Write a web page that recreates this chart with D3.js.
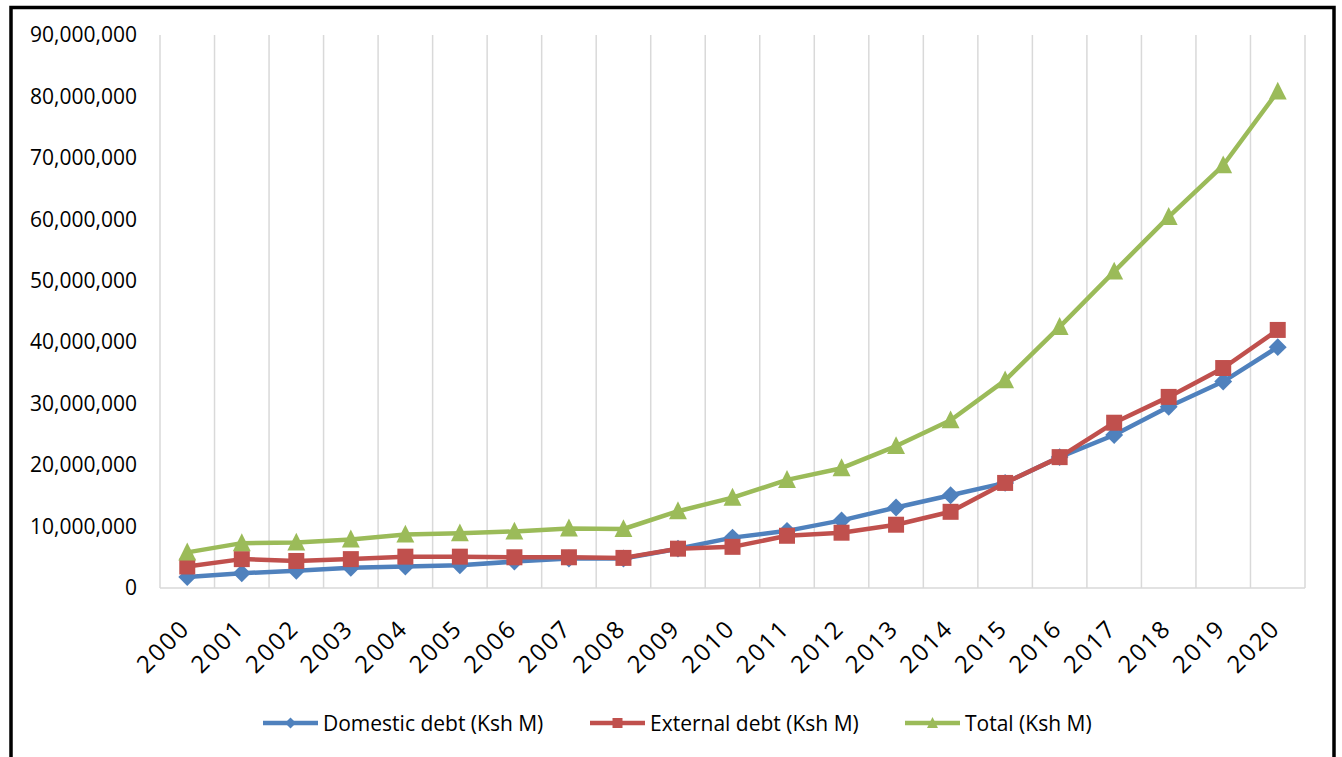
<!DOCTYPE html>
<html>
<head>
<meta charset="utf-8">
<script src="https://cdn.jsdelivr.net/npm/d3@7"></script>
<style>
  html, body { margin: 0; padding: 0; background: #ffffff; }
  svg { display: block; }
  text { font-family: "Open Sans", sans-serif; fill: #000; }
</style>
</head>
<body>
<svg id="chart" width="1342" height="757"></svg>
<script>
const years = ["2000","2001","2002","2003","2004","2005","2006","2007","2008","2009","2010",
               "2011","2012","2013","2014","2015","2016","2017","2018","2019","2020"];
const domestic = [1800000,2400000,2800000,3300000,3500000,3700000,4300000,4800000,4800000,6400000,8200000,
                  9300000,11000000,13100000,15100000,17100000,21300000,24900000,29500000,33600000,39200000];
const external = [3500000,4700000,4400000,4700000,5100000,5100000,5000000,5000000,4900000,6400000,6700000,
                  8500000,9000000,10300000,12400000,17100000,21300000,26900000,31100000,35800000,42000000];
const total    = [5800000,7300000,7400000,7900000,8700000,8900000,9200000,9700000,9600000,12500000,14700000,
                  17600000,19500000,23100000,27300000,33800000,42500000,51500000,60400000,68800000,80800000];
const yTicks = [0,10000000,20000000,30000000,40000000,50000000,60000000,70000000,80000000,90000000];
const seriesNames = ["Domestic debt (Ksh M)","External debt (Ksh M)","Total (Ksh M)"];

const colors = ["#4F81BD","#C0504D","#9BBB59"];
const series = [
  {name: seriesNames[0], values: domestic, color: colors[0], shape: "diamond"},
  {name: seriesNames[1], values: external, color: colors[1], shape: "square"},
  {name: seriesNames[2], values: total,    color: colors[2], shape: "triangle"}
];

const svg = d3.select("#chart");
const pLeft = 160, pRight = 1305, pTop = 35, pBottom = 588;

const x = d3.scaleBand().domain(years).range([pLeft, pRight]).paddingInner(0).paddingOuter(0);
const y = d3.scaleLinear().domain([0, 90000000]).range([pBottom, pTop]);

// outer frame
svg.append("rect").attr("x", 11).attr("y", 7.5).attr("width", 1323).attr("height", 780)
  .attr("fill", "none").attr("stroke", "#000").attr("stroke-width", 3.5);

// vertical gridlines at category boundaries
const bounds = years.map(d => x(d)).concat([x(years[years.length-1]) + x.bandwidth()]);
svg.append("g").selectAll("line").data(bounds).join("line")
  .attr("x1", d => d).attr("x2", d => d).attr("y1", pTop).attr("y2", pBottom)
  .attr("stroke", "#d9d9d9").attr("stroke-width", 1.5);

// x baseline
svg.append("line").attr("x1", pLeft).attr("x2", pRight).attr("y1", pBottom).attr("y2", pBottom)
  .attr("stroke", "#d9d9d9").attr("stroke-width", 1.5);

// y axis labels
const fmt = d3.format(",");
const yAxis = d3.axisLeft(y).tickValues(yTicks).tickFormat(d => fmt(d)).tickSize(0).tickPadding(23);
const yg = svg.append("g").attr("transform", `translate(${pLeft},0)`).call(yAxis);
yg.select(".domain").remove();
yg.selectAll("text").style("font-family", '"Open Sans", sans-serif').style("font-size", "21px").attr("fill", "#000");

// x axis labels
const xAxis = d3.axisBottom(x).tickSize(0).tickPadding(0);
const xg = svg.append("g").attr("transform", `translate(0,${pBottom})`).call(xAxis);
xg.select(".domain").remove();
xg.selectAll("text")
  .style("font-family", '"Open Sans", sans-serif').style("font-size", "24px")
  .style("letter-spacing", "2px").attr("fill", "#000")
  .attr("text-anchor", "end")
  .attr("dy", "0")
  .attr("y", 0)
  .attr("transform", "translate(4,42) rotate(-45)");

// marker symbols
const symDiamond = { draw(ctx, s) { const r = Math.sqrt(s) / 2 * Math.SQRT2;
  ctx.moveTo(0, -r); ctx.lineTo(r, 0); ctx.lineTo(0, r); ctx.lineTo(-r, 0); ctx.closePath(); } };
const symSquare = { draw(ctx, s) { const r = Math.sqrt(s) / 2;
  ctx.rect(-r, -r, 2 * r, 2 * r); } };
const symTriangle = { draw(ctx, s) { const w = Math.sqrt(s);
  ctx.moveTo(0, -w * 0.55); ctx.lineTo(w / 2, w * 0.45); ctx.lineTo(-w / 2, w * 0.45); ctx.closePath(); } };
const shapes = {diamond: symDiamond, square: symSquare, triangle: symTriangle};
const sizes = {diamond: 160, square: 256, triangle: 320};
const legSizes = {diamond: 60, square: 100, triangle: 120};

const line = d3.line().x((d, i) => x(years[i]) + x.bandwidth() / 2).y(d => y(d));

series.forEach(s => {
  const g = svg.append("g");
  g.append("path").attr("d", line(s.values)).attr("fill", "none")
    .attr("stroke", s.color).attr("stroke-width", 4.5).attr("stroke-linejoin", "round");
  g.selectAll("path.m").data(s.values).join("path").attr("class", "m")
    .attr("d", d3.symbol().type(shapes[s.shape]).size(sizes[s.shape]))
    .attr("transform", (d, i) => `translate(${x(years[i]) + x.bandwidth() / 2},${y(d)})`)
    .attr("fill", s.color);
});

// legend
const legX = [263, 590, 905];
const legY = 723;
series.forEach((s, i) => {
  const g = svg.append("g").attr("transform", `translate(${legX[i]},${legY})`);
  g.append("line").attr("x1", 0).attr("x2", 55).attr("y1", 0).attr("y2", 0)
    .attr("stroke", s.color).attr("stroke-width", 4.5);
  g.append("path").attr("d", d3.symbol().type(shapes[s.shape]).size(legSizes[s.shape])())
    .attr("transform", "translate(27.5,0)").attr("fill", s.color);
  g.append("text").attr("x", 60).attr("y", 0).attr("dy", "0.36em")
    .style("font-size", "21px").text(s.name);
});
</script>
</body>
</html>
